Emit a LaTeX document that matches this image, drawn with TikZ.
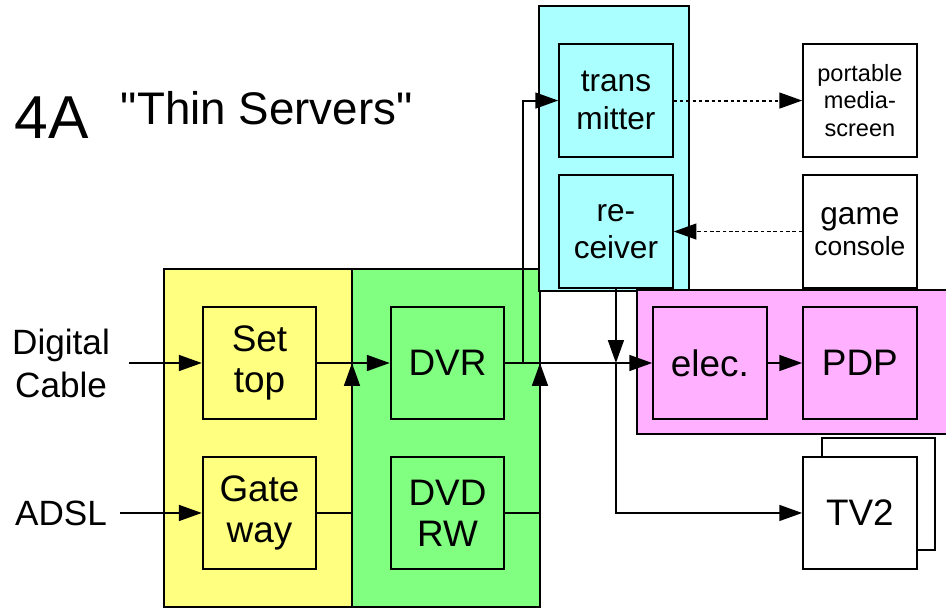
\documentclass[tikz,border=0pt]{standalone}
\usepackage{fontspec}
\setmainfont[Ligatures = TeXOff]{Liberation Sans}
\usetikzlibrary{arrows.meta}
\definecolor{boxyellow}{RGB}{255,255,128}
\definecolor{boxgreen}{RGB}{128,255,128}
\definecolor{boxcyan}{RGB}{170,255,255}
\definecolor{boxpink}{RGB}{255,176,255}

\begin{document}
\begin{tikzpicture}[x = 0.02cm, y = -0.02cm, line width = 1.1pt,
                group/.style = {draw, rectangle, inner sep = 0pt, outer sep = 0pt},
                unit/.style = {draw, rectangle, minimum width = 2.27cm, minimum height = 2.25cm, inner sep = 0pt, align = center, font = \fontsize{21}{23.5}\selectfont},
                small/.style = {unit, font = \fontsize{18}{21.3}\selectfont},
                side/.style = {align = center, inner ysep = 0pt, font = \fontsize{20}{24.5}\selectfont},
                arr/.style = {-{Triangle[length = 13pt, width = 9pt]}},
                wireless/.style = {arr, dash pattern = on 2pt off 1.6pt}]
                \useasboundingbox (0,0) rectangle (946,608);
                \clip (0,0) rectangle (946,608);
                \node[group, fill = boxyellow, minimum width = 3.76cm, minimum height = 6.76cm] (yellowbox) at (258,438) {};
                \node[group, fill = boxgreen, minimum width = 3.76cm, minimum height = 6.76cm] (greenbox) at (446,438) {};
                \node[group, fill = boxcyan, minimum width = 3cm, minimum height = 5.7cm] (cyanbox) at (614,148.5) {};
                \node[group, fill = boxpink, minimum width = 6.28cm, minimum height = 2.88cm] (pinkbox) at (794,362) {};
                \node[anchor = base west, inner sep = 0pt, font = \fontsize{34.5}{40}\selectfont] (number) at (14,138) {4A};
                \node[anchor = base west, inner sep = 0pt, font = \fontsize{26}{30}\selectfont] (title) at (120,125) {"Thin Servers"};
                \node[unit, fill = boxyellow] (settop) at (259.5,363) {Set\\top};
                \node[unit, fill = boxyellow] (gateway) [below of = settop, node distance = 3cm] {Gate\\way};
                \node[unit, fill = boxgreen] (dvr) [right of = settop, node distance = 3.76cm] {DVR};
                \node[unit, fill = boxgreen] (dvdrw) [right of = gateway, node distance = 3.76cm] {DVD\\RW};
                \node[unit, fill = boxpink] (elec) [right of = dvr, node distance = 5.25cm] {elec.};
                \node[unit, fill = boxpink] (pdp) [right of = elec, node distance = 3cm] {PDP};
                \node[group, fill = white, minimum width = 2.27cm, minimum height = 2.25cm] (tv2back) at (878.5,494) {};
                \node[unit, fill = white] (tv2) [below of = pdp, node distance = 3cm] {TV2};
                \node[unit, font = \fontsize{13.4}{15.6}\selectfont] (portable) [above of = pdp, node distance = 5.25cm] {portable\\media-\\screen};
                \node[unit, font = \fontsize{15}{17.6}\selectfont] (game) [above of = pdp, node distance = 2.63cm] {{\fontsize{18}{17.6}\selectfont game}\\console};
                \node[small, fill = boxcyan] (trans) [left of = portable, node distance = 4.88cm] {trans\\mitter};
                \node[small, fill = boxcyan] (recv) [left of = game, node distance = 4.88cm] {re-\\ceiver};
                \node[side, inner xsep = 0.36cm] (cable) [left of = settop, node distance = 3.97cm] {Digital\\Cable};
                \node[side, inner xsep = 0.24cm] (adsl) [left of = gateway, node distance = 3.97cm] {ADSL};
                \coordinate (tap) at ([xshift = 0.36cm]dvr.east);
                \coordinate (drop) at (recv.south |- dvr.east);
                \draw[arr] (cable) -- (settop);
                \draw[arr] (adsl) -- (gateway);
                \draw[arr] (settop) -- (dvr);
                \draw[arr] (gateway) -| (yellowbox.east |- settop);
                \draw[arr] (dvdrw) -| (greenbox.east |- dvr);
                \draw[arr] (dvr) -- (elec);
                \draw[arr] (tap) |- (trans);
                \draw[arr] (recv) -- (drop);
                \draw[arr] (drop) |- (tv2);
                \draw[arr] (elec) -- (pdp);
                \draw[wireless] (trans) -- (portable);
                \draw[wireless] (game) -- (recv);
            \end{tikzpicture}
\end{document}
